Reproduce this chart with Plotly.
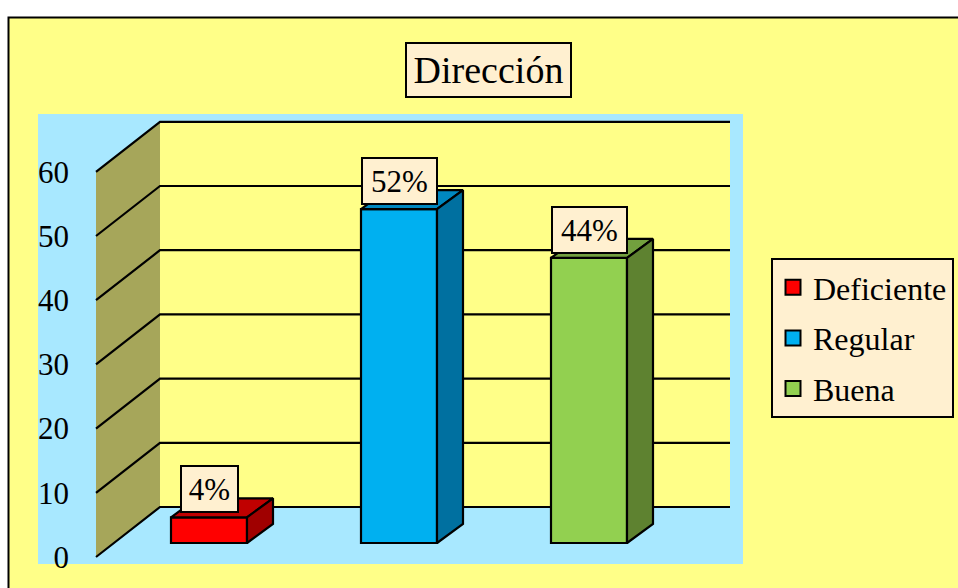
import plotly.graph_objects as go

# ---- data ----
categories = ["Deficiente", "Regular", "Buena"]
values = [4, 52, 44.4]
labels = ["4%", "52%", "44%"]
tick_values = [0, 10, 20, 30, 40, 50, 60]
title_text = "Dirección"

front = ["#FF0000", "#00B0F0", "#92D050"]
top = ["#C00000", "#0088C0", "#72A03E"]
side = ["#A00000", "#0070A0", "#5E8230"]
YELLOW = "#FFFF88"
SKY = "#A8E8FF"
CREAM = "#FFF0D0"
WALL = "#A6A65A"
FONT = "Liberation Serif"

W, H = 958, 588
PX_PER_UNIT = 6.42
PX_PER_CAT = 190.0
X0_PX = 209.0        # pixel of category 0
Y_WALL0 = 557.0      # pixel of value 0 on the front wall edge
Y_BAR0 = 543.0       # pixel of value 0 at the bars' front

def xu(px):
    return (px - X0_PX) / PX_PER_CAT
def xw(px):
    return px / PX_PER_CAT
def yw(px):
    return px / PX_PER_UNIT

BAR_W = xw(76)
BAR_DX, BAR_DY = xw(26), yw(19)
WALL_L, WALL_R = xu(96), xu(160)
GRID_END = xu(730)
WALL_DY = yw(50)

fig = go.Figure()

vmax = max(tick_values)
# left wall
fig.add_trace(go.Scatter(
    x=[WALL_L, WALL_R, WALL_R, WALL_L, WALL_L],
    y=[0, WALL_DY, vmax + WALL_DY, vmax, 0],
    mode="lines", fill="toself", fillcolor=WALL, line=dict(width=0, color=WALL),
    showlegend=False, hoverinfo="skip", yaxis="y"))
# grid lines: diagonal on the wall then along the back wall
for v in tick_values:
    fig.add_trace(go.Scatter(
        x=[WALL_L, WALL_R, GRID_END],
        y=[v, v + WALL_DY, v + WALL_DY],
        mode="lines", line=dict(color="black", width=2.2),
        showlegend=False, hoverinfo="skip", yaxis="y"))

# bars
for i, c in enumerate(categories):
    v = values[i]
    fig.add_trace(go.Bar(
        x=[i], y=[v], width=BAR_W, name=c, yaxis="y2", showlegend=False,
        marker=dict(color=front[i], line=dict(color="black", width=2.2)),
        legendgroup=c, hoverinfo="name+y"))
    xl, xr = i - BAR_W / 2, i + BAR_W / 2
    fig.add_trace(go.Scatter(
        x=[xl, xl + BAR_DX, xr + BAR_DX, xr, xl],
        y=[v, v + BAR_DY, v + BAR_DY, v, v],
        mode="lines", fill="toself", fillcolor=top[i],
        line=dict(color="black", width=2.2), yaxis="y2",
        showlegend=False, hoverinfo="skip"))
    fig.add_trace(go.Scatter(
        x=[xr, xr + BAR_DX, xr + BAR_DX, xr, xr],
        y=[0, BAR_DY, v + BAR_DY, v, 0],
        mode="lines", fill="toself", fillcolor=side[i],
        line=dict(color="black", width=2.2), yaxis="y2",
        showlegend=False, hoverinfo="skip"))
    # legend key (square swatch larger than a bar trace's default key)
    fig.add_trace(go.Scatter(
        x=[None], y=[None], name=c, mode="markers", legendgroup=c, yaxis="y2",
        marker=dict(symbol="square", size=15, color=front[i],
                    line=dict(color="black", width=2)),
        hoverinfo="skip"))

annotations = [
    dict(text=title_text, xref="paper", yref="paper", x=488.5 / W, y=1 - 69.5 / H,
         xanchor="center", yanchor="middle", showarrow=False,
         font=dict(family=FONT, size=38, color="black"),
         bgcolor=CREAM, bordercolor="black", borderwidth=2, borderpad=3,
         width=157, height=46),
]
for i, lab in enumerate(labels):
    annotations.append(dict(
        text=lab, xref="x", yref="y2", x=i, y=values[i], yshift=28,
        xanchor="center", yanchor="middle", showarrow=False,
        font=dict(family=FONT, size=31, color="black"),
        bgcolor=CREAM, bordercolor="black", borderwidth=2, borderpad=3,
        width=18 * len(lab) + 13, height=38))

shapes = [
    dict(type="rect", xref="paper", yref="paper", layer="below",
         x0=8.5 / W, x1=1.02, y0=-0.02, y1=1 - 17.5 / H,
         fillcolor=YELLOW, line=dict(color="black", width=2)),
    dict(type="rect", xref="paper", yref="paper", layer="below",
         x0=38 / W, x1=743 / W, y0=1 - 564 / H, y1=1 - 114 / H,
         fillcolor=SKY, line=dict(width=0)),
    dict(type="rect", xref="x", yref="y", layer="below",
         x0=WALL_R, x1=GRID_END, y0=WALL_DY, y1=vmax + WALL_DY,
         fillcolor=YELLOW, line=dict(width=0)),
]

fig.update_layout(
    width=W, height=H, margin=dict(l=0, r=0, t=0, b=0),
    paper_bgcolor="white", plot_bgcolor="rgba(0,0,0,0)",
    font=dict(family=FONT, color="black"),
    barmode="overlay", shapes=shapes, annotations=annotations,
    xaxis=dict(range=[xu(0), xu(W)], domain=[0, 1], visible=False, fixedrange=True),
    yaxis=dict(range=[(Y_WALL0 - H) / PX_PER_UNIT, Y_WALL0 / PX_PER_UNIT],
               domain=[0, 1], anchor="free", position=69 / W, side="left",
               tickmode="array", tickvals=tick_values,
               ticks="", showgrid=False, zeroline=False, showline=False,
               tickfont=dict(family=FONT, size=31, color="black"),
               fixedrange=True),
    yaxis2=dict(range=[(Y_BAR0 - H) / PX_PER_UNIT, Y_BAR0 / PX_PER_UNIT],
                domain=[0, 1], overlaying="y", visible=False, fixedrange=True),
    legend=dict(x=771 / W, y=1 - 258 / H, xanchor="left", yanchor="top",
                bgcolor=CREAM, bordercolor="black", borderwidth=2,
                font=dict(family=FONT, size=32, color="black"),
                tracegroupgap=6, traceorder="grouped", itemsizing="trace"),
)

fig.write_html("out.html", config={"displayModeBar": False},
               post_script="document.body.style.margin='0';")
